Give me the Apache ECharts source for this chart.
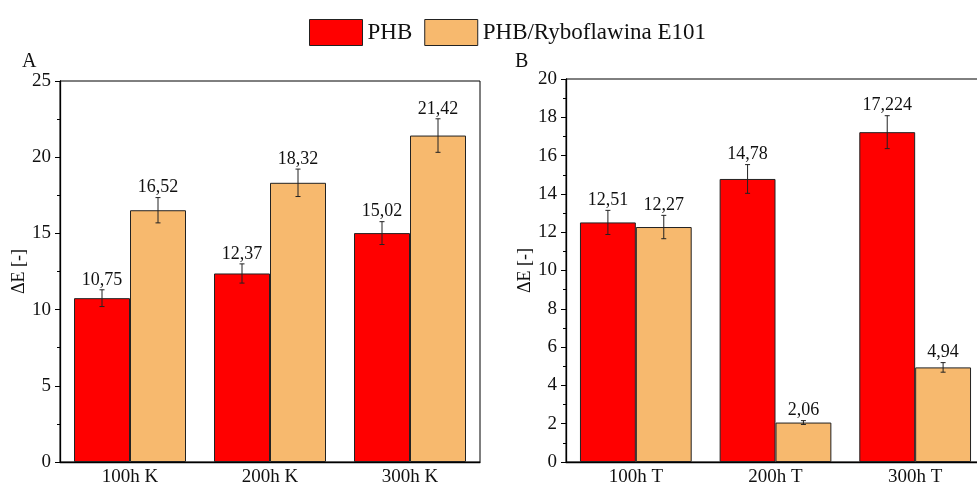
<!DOCTYPE html>
<html>
<head>
<meta charset="utf-8">
<script src="https://cdn.jsdelivr.net/npm/echarts@6/dist/echarts.min.js"></script>
<style>
  html, body { margin: 0; padding: 0; background: #fff; }
  #chart { width: 977px; height: 486px; }
</style>
</head>
<body>
<div id="chart"></div>
<script>
const seriesNames = ['PHB', 'PHB/Ryboflawina E101'];

const categoriesA = ['100h K', '200h K', '300h K'];
const phbA = [10.75, 12.37, 15.02];
const phbErrA = [0.55, 0.63, 0.75];
const ryboA = [16.52, 18.32, 21.42];
const ryboErrA = [0.83, 0.9, 1.1];

const categoriesB = ['100h T', '200h T', '300h T'];
const phbB = [12.51, 14.78, 17.224];
const phbErrB = [0.63, 0.75, 0.86];
const ryboB = [12.27, 2.06, 4.94];
const ryboErrB = [0.61, 0.1, 0.25];

const yTicksA = { min: 0, max: 25, interval: 5 };
const yTicksB = { min: 0, max: 20, interval: 2 };

const colors = ['#ff0000', '#f7b96e'];
const font = 'Liberation Serif';

// error bar + value label drawn above it; side -1 = left bar, +1 = right bar
function errorRender(params, api) {
  const idx = api.value(0);
  const val = api.value(1);
  const err = api.value(2);
  const side = api.value(3);
  const band = api.size([1, 0])[0];
  const x = api.coord([idx, val])[0] + side * band * 0.2;
  const yTop = api.coord([idx, val + err])[1];
  const yBot = api.coord([idx, val - err])[1];
  const cap = 2.5;
  const st = { stroke: '#222', lineWidth: 1 };
  return {
    type: 'group',
    children: [
      { type: 'line', shape: { x1: x, y1: yTop, x2: x, y2: yBot }, style: st },
      { type: 'line', shape: { x1: x - cap, y1: yTop, x2: x + cap, y2: yTop }, style: st },
      { type: 'line', shape: { x1: x - cap, y1: yBot, x2: x + cap, y2: yBot }, style: st },
      {
        type: 'text',
        style: {
          x: x, y: yTop - 1,
          text: String(val).replace('.', ','),
          fontFamily: font, fontSize: 18, fill: '#111',
          align: 'center', verticalAlign: 'bottom'
        }
      }
    ]
  };
}

function errData(vals, errs, side) {
  return vals.map((v, i) => [i, v, errs[i], side]);
}

function xAxes(cats, gridIndex) {
  return [
    {
      type: 'category', gridIndex: gridIndex, data: cats,
      axisLine: { lineStyle: { color: '#000', width: 1.3 } },
      axisTick: { alignWithLabel: true, length: 3, lineStyle: { color: '#000' } },
      axisLabel: { color: '#111', fontFamily: font, fontSize: 19, margin: 6 }
    },
    {
      type: 'category', gridIndex: gridIndex, data: cats, position: 'bottom',
      axisLine: { show: false },
      axisTick: { length: 3, lineStyle: { color: '#000' } },
      axisLabel: { show: false }
    }
  ];
}

function yAxis(t, gridIndex) {
  return {
    type: 'value', gridIndex: gridIndex, min: t.min, max: t.max, interval: t.interval,
    name: 'ΔE [-]', nameLocation: 'middle', nameGap: 31, nameRotate: 90,
    nameTextStyle: { fontFamily: font, fontSize: 18, color: '#111' },
    splitLine: { show: false },
    axisLine: { show: true, lineStyle: { color: '#000', width: 1.3 } },
    axisTick: { show: true, length: 5, lineStyle: { color: '#000' } },
    minorTick: { show: true, splitNumber: 2, length: 3, lineStyle: { color: '#000' } },
    axisLabel: { color: '#111', fontFamily: font, fontSize: 19, margin: 9 }
  };
}

function barSeries(name, data, xi, yi, color) {
  return {
    name: name, type: 'bar', xAxisIndex: xi, yAxisIndex: yi, data: data,
    barGap: '0%', barCategoryGap: '20%',
    itemStyle: { color: color, borderColor: '#222', borderWidth: 1 }
  };
}

function errSeries(vals, errs, side, xi, yi) {
  return {
    type: 'custom', xAxisIndex: xi, yAxisIndex: yi, z: 5,
    renderItem: errorRender, data: errData(vals, errs, side),
    silent: true
  };
}

const chart = echarts.init(document.getElementById('chart'));
chart.setOption({
  animation: false,
  title: [
    { text: 'A', left: 17, top: 47, textStyle: { fontFamily: font, fontSize: 20, fontWeight: 'normal', color: '#111' } },
    { text: 'B', left: 510, top: 47, textStyle: { fontFamily: font, fontSize: 20, fontWeight: 'normal', color: '#111' } }
  ],
  legend: {
    data: seriesNames, left: 304, top: 14, icon: 'rect',
    itemWidth: 53, itemHeight: 26, itemGap: 12,
    itemStyle: { borderColor: '#222', borderWidth: 1 },
    textStyle: { fontFamily: font, fontSize: 23, color: '#111' }
  },
  grid: [
    { left: 60, top: 81, width: 420, height: 381, show: true, borderColor: '#000', borderWidth: 1, outerBoundsMode: 'none' },
    { left: 566, top: 79, width: 419, height: 383, show: true, borderColor: '#000', borderWidth: 1, outerBoundsMode: 'none' }
  ],
  xAxis: xAxes(categoriesA, 0).concat(xAxes(categoriesB, 1)),
  yAxis: [yAxis(yTicksA, 0), yAxis(yTicksB, 1)],
  series: [
    barSeries(seriesNames[0], phbA, 0, 0, colors[0]),
    barSeries(seriesNames[1], ryboA, 0, 0, colors[1]),
    errSeries(phbA, phbErrA, -1, 0, 0),
    errSeries(ryboA, ryboErrA, 1, 0, 0),
    barSeries(seriesNames[0], phbB, 2, 1, colors[0]),
    barSeries(seriesNames[1], ryboB, 2, 1, colors[1]),
    errSeries(phbB, phbErrB, -1, 2, 1),
    errSeries(ryboB, ryboErrB, 1, 2, 1)
  ]
});
</script>
</body>
</html>
